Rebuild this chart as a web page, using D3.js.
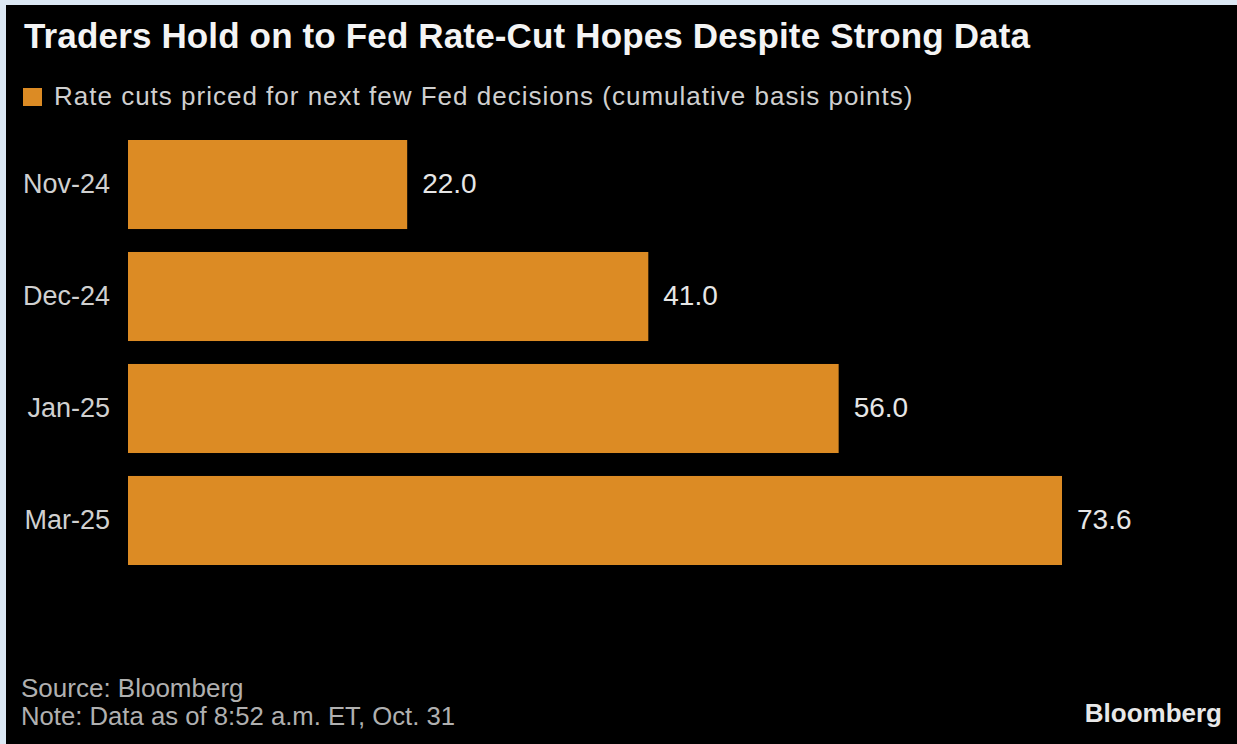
<!DOCTYPE html>
<html lang="en">
<head>
    <meta charset="UTF-8">
    <title>Traders Hold on to Fed Rate-Cut Hopes Despite Strong Data</title>
    <style>
        body {
            margin: 0;
            background-color: #dce8f4;
            font-family: "Liberation Sans", Arial, sans-serif;
        }
        svg {
            display: block;
        }
    </style>
    <script src="https://d3js.org/d3.v7.min.js"></script>
</head>
<body>
<div id="chart"></div>

<script>

// data
var meetings = ["Nov-24", "Dec-24", "Jan-25", "Mar-25"];
var cuts = [22.0, 41.0, 56.0, 73.6];

var width = 1237,
    height = 744;

var svg = d3.select("#chart")
  .append("svg")
    .attr("width", width)
    .attr("height", height);

// black panel inside the light border
svg.append("rect")
    .attr("x", 6)
    .attr("y", 5)
    .attr("width", width - 6)
    .attr("height", height - 5)
    .attr("fill", "#000");

svg.append("text")
    .attr("x", 24)
    .attr("y", 48)
    .attr("fill", "#f4f4f4")
    .style("font-size", "35px")
    .style("font-weight", "bold")
    .style("letter-spacing", "0.15px")
    .text("Traders Hold on to Fed Rate-Cut Hopes Despite Strong Data");

// legend
svg.append("rect")
    .attr("x", 23)
    .attr("y", 88)
    .attr("width", 19)
    .attr("height", 18)
    .attr("fill", "#dc8b24");

svg.append("text")
    .attr("x", 54)
    .attr("y", 105)
    .attr("fill", "#cfcfcf")
    .style("font-size", "26px")
    .style("letter-spacing", "1px")
    .text("Rate cuts priced for next few Fed decisions (cumulative basis points)");

var x = d3.scaleLinear()
  .domain([0, 73.6])
  .range([128, 1062]);

var y = d3.scaleBand()
  .domain(meetings)
  .range([140, 565])
  .paddingInner(0.205)
  .paddingOuter(0);

var data = meetings.map(function(m, i) { return {meeting: m, value: cuts[i]}; });

svg.selectAll("rect.bar")
  .data(data)
  .enter()
  .append("rect")
    .attr("class", "bar")
    .attr("x", x(0))
    .attr("y", function(d) { return y(d.meeting); })
    .attr("width", function(d) { return x(d.value) - x(0); })
    .attr("height", y.bandwidth())
    .attr("fill", "#dc8b24");

// category axis, no line or ticks
var yAxis = svg.append("g")
    .attr("transform", "translate(" + (x(0) - 8) + ",0)")
    .call(d3.axisLeft(y).tickSize(0).tickPadding(10));
yAxis.select(".domain").remove();
yAxis.selectAll("text")
    .attr("fill", "#d0d0d0")
    .style("font-size", "27px")
    .style("font-family", "'Liberation Sans', Arial, sans-serif");

svg.selectAll("text.value")
  .data(data)
  .enter()
  .append("text")
    .attr("class", "value")
    .attr("x", function(d) { return x(d.value) + 15; })
    .attr("y", function(d) { return y(d.meeting) + y.bandwidth() / 2; })
    .attr("dy", "0.3em")
    .attr("fill", "#e6e6e6")
    .style("font-size", "28px")
    .text(function(d) { return d3.format(".1f")(d.value); });

// footer
svg.append("text")
    .attr("x", 21)
    .attr("y", 697)
    .attr("fill", "#b0b0b0")
    .style("font-size", "26px")
    .text("Source: Bloomberg");

svg.append("text")
    .attr("x", 21)
    .attr("y", 725)
    .attr("fill", "#b0b0b0")
    .style("font-size", "25.7px")
    .text("Note: Data as of 8:52 a.m. ET, Oct. 31");

svg.append("text")
    .attr("x", 1222)
    .attr("y", 722)
    .attr("text-anchor", "end")
    .attr("fill", "#e8e8e8")
    .style("font-size", "26px")
    .style("font-weight", "bold")
    .text("Bloomberg");

</script>
</body>
</html>
